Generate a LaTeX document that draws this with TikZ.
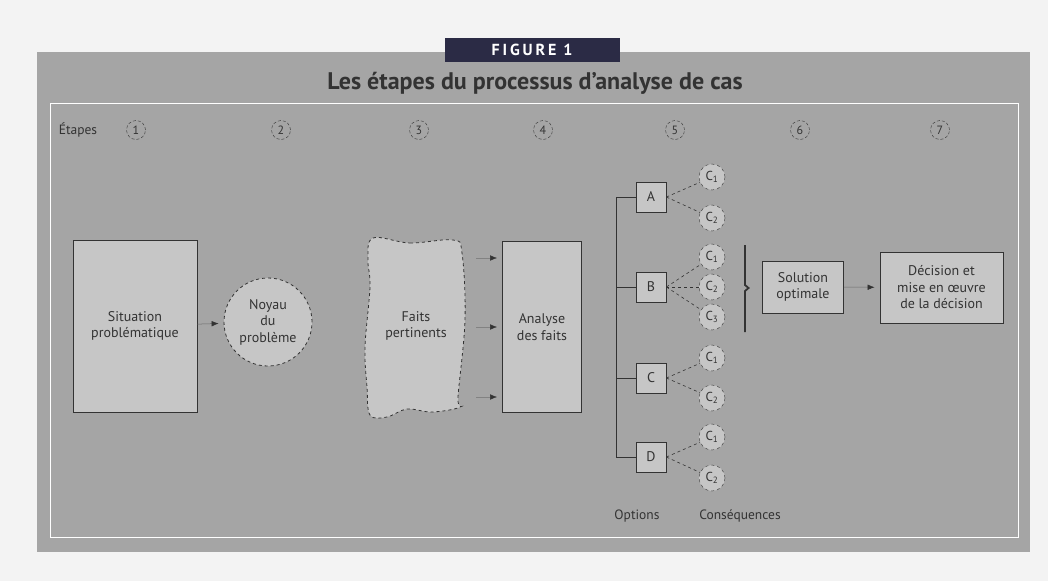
\documentclass[tikz,border=0pt]{standalone}
\usepackage{xcolor}
\usepackage{fontspec}
\setmainfont{PT Sans}
\usepackage{tikz}
\usetikzlibrary{arrows.meta}

\definecolor{pagegray}{HTML}{F3F3F3}
\definecolor{panelgray}{HTML}{A5A5A5}
\definecolor{boxgray}{HTML}{C6C6C6}
\definecolor{inkgray}{HTML}{333333}
\definecolor{linkgray}{HTML}{6A6A6A}
\definecolor{labelnavy}{HTML}{2B2B45}

\begin{document}
\begin{tikzpicture}[x=1pt, y=-1pt,
    every node/.style={text=inkgray},
    box/.style={draw=inkgray, fill=boxgray, line width=0.8pt, align=center,
      inner sep=0pt, font=\fontsize{14}{16.5}\selectfont},
    option/.style={box, minimum width=30pt, minimum height=30pt},
    conseq/.style={circle, draw=inkgray, dashed, fill=boxgray, minimum size=26pt,
      inner sep=0pt, font=\fontsize{13}{15}\selectfont},
    stepnum/.style={circle, draw=inkgray, densely dashed, minimum size=19pt,
      inner sep=0pt, font=\fontsize{12}{14}\selectfont},
    small/.style={font=\fontsize{13.5}{15}\selectfont},
    link/.style={-{Latex[length=7pt,width=5.5pt,color=inkgray]}, linkgray, line width=0.5pt, shorten >=5pt}]
    % page and panel
    \fill[pagegray] (0,0) rectangle (1048,581);
    \fill[panelgray] (37,52) rectangle (1030,552);
    \draw[white, line width=1pt] (50,103) rectangle (1018,537);
    \node[fill=labelnavy, text=white, minimum width=175pt, minimum height=24pt,
      font=\fontsize{16}{18}\selectfont\bfseries\addfontfeatures{LetterSpace=18}]
      (figlabel) at (532,50) {FIGURE 1};
    \node[font=\fontsize{24}{28}\selectfont\bfseries] (title) at (535,83)
      {Les étapes du processus d'analyse de cas};

    % steps
    \node[small] (etapes) at (78,130) {Étapes};
    \foreach \i/\x in {1/136, 2/281, 3/419, 4/543, 5/675, 6/800, 7/940}
        \node[stepnum] (step\i) at (\x,130) {\i};

    % 1 to 4
    \node[box, minimum width=124pt, minimum height=172pt] (situation) at (135,326)
      {Situation\\problématique};
    \node[box, circle, dashed, minimum size=88pt] (noyau) at (268,322)
      {Noyau\\du\\problème};
    \draw[link] (situation) -- (noyau);
    \draw[inkgray, dashed, fill=boxgray, line width=0.8pt] plot[smooth cycle, tension=0.6]
      coordinates {(373,238) (410,243) (453,240) (462,253) (465,320) (458,397)
                   (460,407) (432,412) (407,409) (387,417) (370,415) (367,387)
                   (365,347) (370,287) (368,260)};
    \node[box, draw=none, fill=none] (faits) at (416,326) {Faits\\pertinents};
    \node[box, minimum width=79pt, minimum height=171pt] (analyse) at (542,327)
      {Analyse\\des faits};
    \foreach \y in {258, 327, 397}
      {
        \coordinate (in\y) at (476,\y);
        \draw[link, linkgray!60!panelgray] (in\y) -- (in\y -| analyse.west);
      }

    % 5 options and consequences
    \foreach \n/\y in {A/197, B/287, C/378, D/457}
      {
        \node[option] (opt\n) at (651,\y) {\n};
        \draw[inkgray, line width=0.8pt] (opt\n.west) -- ++(-19,0);
      }
    \draw[inkgray, line width=0.8pt] (optA.west) ++(-19,0) |- (optD.west);
    \foreach \o/\k/\y in {A/1/177, A/2/218, B/1/257, B/2/287, B/3/317, C/1/358, C/2/398, D/1/437, D/2/478}
      {
        \node[conseq] (c\o\k) at (712,\y) {C\textsubscript{\k}};
        \draw[inkgray, dashed, line width=0.6pt] (opt\o.east) -- (c\o\k);
      }
    \node[small] (options) at (637,516) {Options};
    \node[small] (consequences) at (740,516) {Conséquences};

    % 6 and 7
    \draw[inkgray, line width=1.8pt] (745,245) -- (745,285) -- (748.5,288) -- (745,291) -- (745,332);
    \node[box, minimum width=81pt, minimum height=52pt] (solution) at (803,287)
      {Solution\\optimale};
    \node[box, minimum width=123pt, minimum height=71pt] (decision) at (941.5,287.5)
      {Décision et\\mise en œuvre\\de la décision};
    \draw[link] (solution) -- (decision);
\end{tikzpicture}
\end{document}
